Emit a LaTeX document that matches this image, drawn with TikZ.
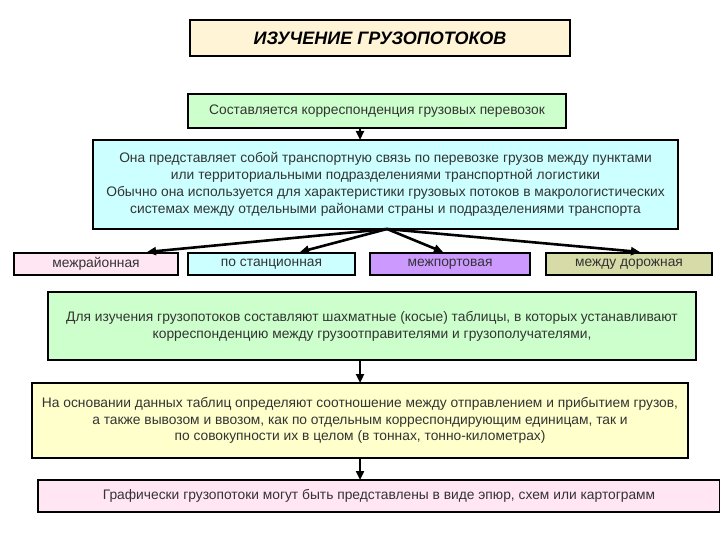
\documentclass[tikz,border=0pt]{standalone}
\usepackage{fontspec}
\setmainfont{Liberation Sans}
\usetikzlibrary{arrows.meta}
\definecolor{cream}{HTML}{FFF5D6}
\definecolor{lgreen}{HTML}{CCFFCC}
\definecolor{lcyan}{HTML}{CCFFFF}
\definecolor{lpink}{HTML}{FFE6F2}
\definecolor{lpurp}{HTML}{CC99FF}
\definecolor{olive}{HTML}{D6DBA8}
\definecolor{lyel}{HTML}{FFFFCC}
\definecolor{tgray}{HTML}{333333}
\begin{document}
\begin{tikzpicture}[x=1pt,y=-1pt,
  box/.style={draw=black,line width=2.8pt,inner sep=0pt,font=\fontsize{13.8}{16.8}\selectfont,text=tgray,align=center},
  arr/.style={-{Triangle[length=9pt,width=8pt]},line width=2.6pt}]
\useasboundingbox (0,0) rectangle (720,540);
\fill[white] (0,0) rectangle (720,540);
\node[box,fill=cream,minimum width=380pt,minimum height=36pt,font=\fontsize{18}{20}\selectfont\bfseries\itshape,text=black] (t) at (380,38) {ИЗУЧЕНИЕ ГРУЗОПОТОКОВ};
\node[box,fill=lgreen,minimum width=378pt,minimum height=34pt] (b1) at (377,111) {Составляется корреспонденция грузовых перевозок};
\node[box,fill=lcyan,minimum width=585pt,minimum height=89pt] (b2) at (385.5,184.5) {Она представляет собой транспортную связь по перевозке грузов между пунктами\\или территориальными подразделениями транспортной логистики\\Обычно она используется для характеристики грузовых  потоков в макрологистических\\системах между отдельными районами страны и  подразделениями транспорта};
\node[box,fill=lpink,minimum width=164pt,minimum height=22pt] (m1) at (96,264) {межрайонная};
\node[box,fill=lcyan,minimum width=167pt,minimum height=22pt] (m2) at (271.5,264) {по станционная};
\node[box,fill=lpurp,minimum width=160pt,minimum height=22pt] (m3) at (450,264) {межпортовая};
\node[box,fill=olive,minimum width=166pt,minimum height=22pt] (m4) at (629,264) {между дорожная};
\node[box,fill=lgreen,minimum width=648pt,minimum height=68pt] (b3) at (372,326) {Для изучения грузопотоков составляют шахматные (косые) таблицы, в которых устанавливают\\корреспонденцию между грузоотправителями и грузополучателями,};
\node[box,fill=lyel,minimum width=656pt,minimum height=75pt] (b4) at (360,420.5) {На основании данных таблиц определяют соотношение между отправлением и прибытием грузов,\\а также вывозом и ввозом, как по отдельным корреспондирующим единицам, так и\\по совокупности их в целом (в тоннах, тонно-километрах)};
\node[box,fill=lpink,minimum width=682pt,minimum height=32pt] (b5) at (379,496) {Графически грузопотоки могут быть представлены в виде эпюр, схем или картограмм};
\draw[arr] (360,128) -- (360,140);
\coordinate (o) at (387,229);
\draw[arr] (o) -- (147,252);
\draw[arr] (o) -- (300,252);
\draw[arr] (o) -- (443,252);
\draw[arr] (o) -- (640,252);
\draw[arr] (360,360) -- (360,383);
\draw[arr] (360,458) -- (360,480);
\end{tikzpicture}
\end{document}
